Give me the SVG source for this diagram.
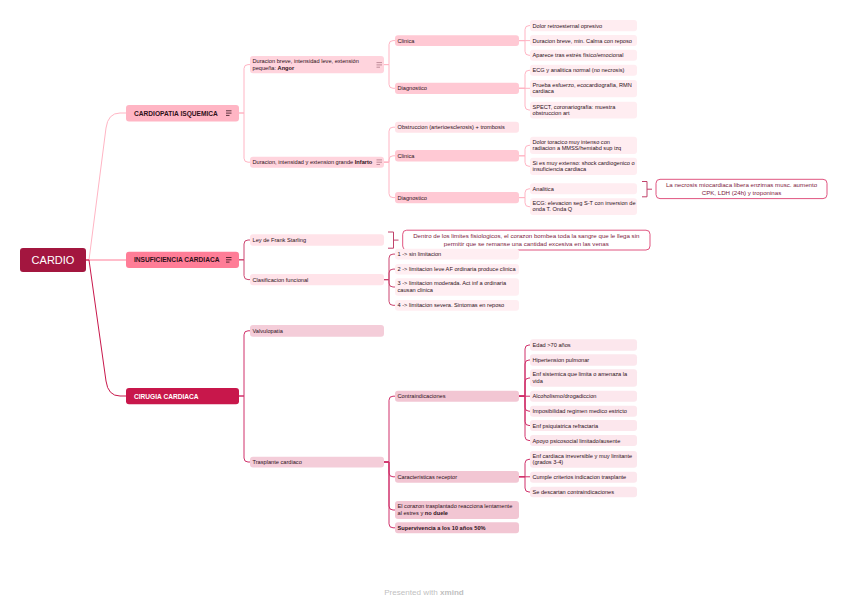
<svg xmlns="http://www.w3.org/2000/svg" width="848" height="604" viewBox="0 0 848 604">
<style>
text{font-family:"Liberation Sans",Arial,sans-serif;font-size:5.65px;fill:#2E1019}
.b{font-weight:bold}
.l1{font-size:6.6px;font-weight:bold}
.w{fill:#FFFFFF}
.c{text-anchor:middle}
.co{fill:#7E2040;font-size:6.15px}
.cx{fill:none;stroke-width:1}
.ca{stroke:#FFB5C4}
.ci{stroke:#CC4570}
.cc{stroke:#D0306A}
.fA2{fill:#FFD4DD}
.fA3{fill:#FFC9D4}
.fA4{fill:#FFEDF1}
.fI2{fill:#FFE3E9}
.fI3{fill:#FFEEF2}
.fC2{fill:#F4CDD9}
.fC3{fill:#F2C6D3}
.fC4{fill:#FCE7ED}
.ic{fill:none;stroke-width:0.8}
.callout{fill:#FFFFFF;stroke:#E05580;stroke-width:1}
.br{fill:none;stroke:#C0426A;stroke-width:1}
</style>
<defs>
<g id="note"><path d="M0,0H5.5M0,2.3H5.5M0,4.6H3.5"/></g>
</defs>

<g id="connectors">
<path class="cx ca" stroke-width="1.2" d="M86,260 H89 L106,128 Q108,113 120,113 H126"/>
<path class="cx" stroke="#FF7D97" stroke-width="1.2" d="M86,260 H126"/>
<path class="cx" stroke="#C8174B" stroke-width="1.2" d="M86,260 H89 L106,381 Q108,396 120,396 H126"/>
<path class="cx ca" d="M239,113 H244 V68.6 Q244,64.6 248,64.6 H250"/>
<path class="cx ca" d="M239,113 H244 V158.2 Q244,162.2 248,162.2 H250"/>
<path class="cx ci" d="M239,259.8 H244 V244 Q244,240 248,240 H250"/>
<path class="cx ci" d="M239,259.8 H244 V275.6 Q244,279.6 248,279.6 H250"/>
<path class="cx cc" d="M239,396 H244 V334.8 Q244,330.8 248,330.8 H250"/>
<path class="cx cc" d="M239,396 H244 V458 Q244,462 248,462 H250"/>
<path class="cx ca" d="M384,64.6 H389 V44.6 Q389,40.6 393,40.6 H395"/>
<path class="cx ca" d="M384,64.6 H389 V84.3 Q389,88.3 393,88.3 H395"/>
<path class="cx ca" d="M384,162.2 H389 V131.2 Q389,127.2 393,127.2 H395"/>
<path class="cx ca" d="M384,162.2 H389 V159.8 Q389,155.8 393,155.8 H395"/>
<path class="cx ca" d="M384,162.2 H389 V193.6 Q389,197.6 393,197.6 H395"/>
<path class="cx ci" d="M384,279.6 H389 V258.1 Q389,254.1 393,254.1 H395"/>
<path class="cx ci" d="M384,279.6 H389 V273.1 Q389,269.1 393,269.1 H395"/>
<path class="cx ci" d="M384,279.6 H389 V283 Q389,287 393,287 H395"/>
<path class="cx ci" d="M384,279.6 H389 V301.3 Q389,305.3 393,305.3 H395"/>
<path class="cx cc" d="M384,462 H389 V400.2 Q389,396.2 393,396.2 H395"/>
<path class="cx cc" d="M384,462 H389 V472.8 Q389,476.8 393,476.8 H395"/>
<path class="cx cc" d="M384,462 H389 V506 Q389,510 393,510 H395"/>
<path class="cx cc" d="M384,462 H389 V523.8 Q389,527.8 393,527.8 H395"/>
<path class="cx ca" d="M519,40.6 H525 V29.6 Q525,25.6 529,25.6 H530"/>
<path class="cx ca" d="M519,40.6 H530"/>
<path class="cx ca" d="M519,40.6 H525 V51.3 Q525,55.3 529,55.3 H530"/>
<path class="cx ca" d="M519,88.3 H525 V74.3 Q525,70.3 529,70.3 H530"/>
<path class="cx ca" d="M519,88.3 H530"/>
<path class="cx ca" d="M519,88.3 H525 V106 Q525,110 529,110 H530"/>
<path class="cx ca" d="M519,155.8 H525 V149.3 Q525,145.3 529,145.3 H530"/>
<path class="cx ca" d="M519,155.8 H525 V162.3 Q525,166.3 529,166.3 H530"/>
<path class="cx ca" d="M519,197.6 H525 V192.8 Q525,188.8 529,188.8 H530"/>
<path class="cx ca" d="M519,197.6 H525 V202.7 Q525,206.7 529,206.7 H530"/>
<path class="cx cc" d="M519,396.2 H525 V349 Q525,345 529,345 H530"/>
<path class="cx cc" d="M519,396.2 H525 V364 Q525,360 529,360 H530"/>
<path class="cx cc" d="M519,396.2 H525 V382 Q525,378 529,378 H530"/>
<path class="cx cc" d="M519,396.2 H530"/>
<path class="cx cc" d="M519,396.2 H525 V407.2 Q525,411.2 529,411.2 H530"/>
<path class="cx cc" d="M519,396.2 H525 V421.5 Q525,425.5 529,425.5 H530"/>
<path class="cx cc" d="M519,396.2 H525 V436.5 Q525,440.5 529,440.5 H530"/>
<path class="cx cc" d="M519,476.8 H525 V463.3 Q525,459.3 529,459.3 H530"/>
<path class="cx cc" d="M519,476.8 H530"/>
<path class="cx cc" d="M519,476.8 H525 V488 Q525,492 529,492 H530"/>
</g>

<g id="n-cardio"><rect x="20" y="248" width="66" height="24" rx="3" fill="#A3163F"/><text class="w c" x="53" y="264" style="font-size:11px">CARDIO</text></g>

<g id="n-cardiopatia"><rect x="126" y="105" width="113" height="16.5" rx="3" fill="#FFB5C4"/><text class="l1" x="134" y="115.6">CARDIOPATIA ISQUEMICA</text><use href="#note" x="226" y="110.8" class="ic" stroke="#2E1019"/></g>
<g id="n-insuf"><rect x="126" y="251.7" width="113" height="16.2" rx="3" fill="#FF7D97"/><text class="l1" x="134" y="262.2">INSUFICIENCIA CARDIACA</text><use href="#note" x="226" y="257.5" class="ic" stroke="#2E1019"/></g>
<g id="n-cirugia"><rect x="126" y="388" width="113" height="16.2" rx="3" fill="#C8174B"/><text class="l1 w" x="134" y="398.6">CIRUGIA CARDIACA</text></g>

<g id="n-angor"><rect class="fA2" x="250" y="56" width="134" height="17.3" rx="3"/><text x="252.5" y="63.2">Duracion breve, intensidad leve, extensión</text><text x="252.5" y="69.6">pequeña: <tspan class="b">Angor</tspan></text><use href="#note" x="376.5" y="62.6" class="ic" stroke="#B07888"/></g>
<g id="n-angor-clinica"><rect class="fA3" x="395" y="35.3" width="124" height="10.7" rx="3"/><text x="397.5" y="42.7">Clinica</text></g>
<g id="n-angor-c1"><rect class="fA4" x="530" y="20" width="107" height="11.2" rx="3"/><text x="532.5" y="27.6">Dolor retroesternal opresivo</text></g>
<g id="n-angor-c2"><rect class="fA4" x="530" y="35" width="107" height="11" rx="3"/><text x="532.5" y="42.5">Duracion breve, min. Calma con reposo</text></g>
<g id="n-angor-c3"><rect class="fA4" x="530" y="49.8" width="107" height="11" rx="3"/><text x="532.5" y="57.3">Aparece tras estrés físico/emocional</text></g>
<g id="n-angor-diag"><rect class="fA3" x="395" y="82.7" width="124" height="11.3" rx="3"/><text x="397.5" y="90.3">Diagnostico</text></g>
<g id="n-angor-d1"><rect class="fA4" x="530" y="64.8" width="107" height="11" rx="3"/><text x="532.5" y="72.3">ECG y analitica normal (no necrosis)</text></g>
<g id="n-angor-d2"><rect class="fA4" x="530" y="80" width="107" height="17.3" rx="3"/><text x="532.5" y="87">Prueba esfuerzo, ecocardiografía, RMN</text><text x="532.5" y="93.3">cardiaca</text></g>
<g id="n-angor-d3"><rect class="fA4" x="530" y="101.7" width="107" height="16.7" rx="3"/><text x="532.5" y="108.5">SPECT, coronariografía: muestra</text><text x="532.5" y="114.8">obstruccion art</text></g>

<g id="n-infarto"><rect class="fA2" x="250" y="156.7" width="134" height="11" rx="3"/><text x="252.5" y="164.2">Duracion, intensidad y extension grande <tspan class="b">Infarto</tspan></text><use href="#note" x="376.5" y="159.9" class="ic" stroke="#B07888"/></g>
<g id="n-inf-obs"><rect class="fI2" x="395" y="121.7" width="124" height="11" rx="3"/><text x="397.5" y="129.2">Obstruccion (arterioesclerosis) + trombosis</text></g>
<g id="n-inf-clinica"><rect class="fA3" x="395" y="150" width="124" height="11.6" rx="3"/><text x="397.5" y="157.8">Clinica</text></g>
<g id="n-inf-c1"><rect class="fA4" x="530" y="136.7" width="107" height="17.3" rx="3"/><text x="532.5" y="143.6">Dolor toracico muy intenso con</text><text x="532.5" y="149.9">radiacion a MMSS/hemiabd sup izq</text></g>
<g id="n-inf-c2"><rect class="fA4" x="530" y="157.7" width="107" height="17.3" rx="3"/><text x="532.5" y="164.6">Si es muy extenso: shock cardiogenico o</text><text x="532.5" y="170.9">insuficiencia cardiaca</text></g>
<g id="n-inf-diag"><rect class="fA3" x="395" y="192" width="124" height="11.3" rx="3"/><text x="397.5" y="199.6">Diagnostico</text></g>
<g id="n-inf-d1"><rect class="fA4" x="530" y="183.3" width="107" height="11" rx="3"/><text x="532.5" y="190.8">Analitica</text></g>
<g id="n-inf-d2"><rect class="fA4" x="530" y="198.3" width="107" height="16.7" rx="3"/><text x="532.5" y="205">ECG: elevacion seg S-T con inversion de</text><text x="532.5" y="211.3">onda T. Onda Q</text></g>
<g id="n-inf-callout"><path class="br" d="M642,181.5 H647 V196.8 H642 M647,189.2 H652"/><rect class="callout" x="656" y="179.3" width="171" height="19.3" rx="4"/><text class="co c" x="741.5" y="187.4">La necrosis miocardiaca libera enzimas musc. aumento</text><text class="co c" x="741.5" y="194.8">CPK, LDH (24h) y troponinas</text></g>

<g id="n-frank"><rect class="fI2" x="250" y="234.3" width="134" height="11.4" rx="3"/><text x="252.5" y="242">Ley de Frank Starling</text></g>
<g id="n-frank-callout"><path class="br" d="M388,232 H393.5 V248.2 H388 M393.5,240.1 H398.5"/><rect class="callout" x="402.7" y="230.2" width="247.3" height="19.8" rx="4"/><text class="co c" x="526.3" y="238.4">Dentro de los limites fisiologicos, el corazon bombea toda la sangre que le llega sin</text><text class="co c" x="526.3" y="246">permitir que se remanse una cantidad excesiva en las venas</text></g>
<g id="n-clasif"><rect class="fI2" x="250" y="274" width="134" height="11.3" rx="3"/><text x="252.5" y="281.6">Clasificacion funcional</text></g>
<g id="n-cl1"><rect class="fI3" x="395" y="248.8" width="124" height="10.6" rx="3"/><text x="397.5" y="256.1">1 -&gt; sin limitacion</text></g>
<g id="n-cl2"><rect class="fI3" x="395" y="263.9" width="124" height="10.5" rx="3"/><text x="397.5" y="271.2">2 -&gt; limitacion leve AF ordinaria produce clinica</text></g>
<g id="n-cl3"><rect class="fI3" x="395" y="278.3" width="124" height="17.4" rx="3"/><text x="397.5" y="285.2">3 -&gt; limitacion moderada. Act inf a ordinaria</text><text x="397.5" y="291.5">causan clinica</text></g>
<g id="n-cl4"><rect class="fI3" x="395" y="300" width="124" height="10.7" rx="3"/><text x="397.5" y="307.4">4 -&gt; limitacion severa. Sintomas en reposo</text></g>

<g id="n-valv"><rect class="fC2" x="250" y="325" width="134" height="11.7" rx="3"/><text x="252.5" y="332.8">Valvulopatia</text></g>
<g id="n-traspl"><rect class="fC2" x="250" y="456.7" width="134" height="10.7" rx="3"/><text x="252.5" y="464.1">Trasplante cardiaco</text></g>
<g id="n-contra"><rect class="fC3" x="395" y="390.7" width="124" height="11" rx="3"/><text x="397.5" y="398.2">Contraindicaciones</text></g>
<g id="n-co1"><rect class="fC4" x="530" y="339.3" width="107" height="11.4" rx="3"/><text x="532.5" y="347">Edad &gt;70 años</text></g>
<g id="n-co2"><rect class="fC4" x="530" y="354.3" width="107" height="11.4" rx="3"/><text x="532.5" y="362">Hipertension pulmonar</text></g>
<g id="n-co3"><rect class="fC4" x="530" y="369.3" width="107" height="17.4" rx="3"/><text x="532.5" y="376.2">Enf sistemica que limita o amenaza la</text><text x="532.5" y="382.5">vida</text></g>
<g id="n-co4"><rect class="fC4" x="530" y="390.7" width="107" height="11" rx="3"/><text x="532.5" y="398.2">Alcoholismo/drogadiccion</text></g>
<g id="n-co5"><rect class="fC4" x="530" y="405.7" width="107" height="11" rx="3"/><text x="532.5" y="413.2">Imposibilidad regimen medico estricto</text></g>
<g id="n-co6"><rect class="fC4" x="530" y="420" width="107" height="11" rx="3"/><text x="532.5" y="427.5">Enf psiquiatrica refractaria</text></g>
<g id="n-co7"><rect class="fC4" x="530" y="435" width="107" height="11" rx="3"/><text x="532.5" y="442.5">Apoyo psicosocial limitado/ausente</text></g>
<g id="n-caract"><rect class="fC3" x="395" y="471" width="124" height="11.7" rx="3"/><text x="397.5" y="478.8">Caracteristicas receptor</text></g>
<g id="n-ca1"><rect class="fC4" x="530" y="451" width="107" height="16.7" rx="3"/><text x="532.5" y="457.7">Enf cardiaca irreversible y muy limitante</text><text x="532.5" y="464">(grados 3-4)</text></g>
<g id="n-ca2"><rect class="fC4" x="530" y="471.7" width="107" height="11" rx="3"/><text x="532.5" y="479.2">Cumple criterios indicacion trasplante</text></g>
<g id="n-ca3"><rect class="fC4" x="530" y="486.7" width="107" height="10.6" rx="3"/><text x="532.5" y="494">Se descartan contraindicaciones</text></g>
<g id="n-corazon"><rect class="fC3" x="395" y="501" width="124" height="18" rx="3"/><text x="397.5" y="508.2">El corazon trasplantado reacciona lentamente</text><text x="397.5" y="514.5">al estres y <tspan class="b">no duele</tspan></text></g>
<g id="n-superv"><rect class="fC3" x="395" y="522.3" width="124" height="11" rx="3"/><text class="b" x="397.5" y="529.8">Supervivencia a los 10 años 50%</text></g>

<text class="c" x="424" y="595" style="font-size:8.1px;fill:#BFBFBF">Presented with <tspan class="b">xmind</tspan></text>
</svg>
